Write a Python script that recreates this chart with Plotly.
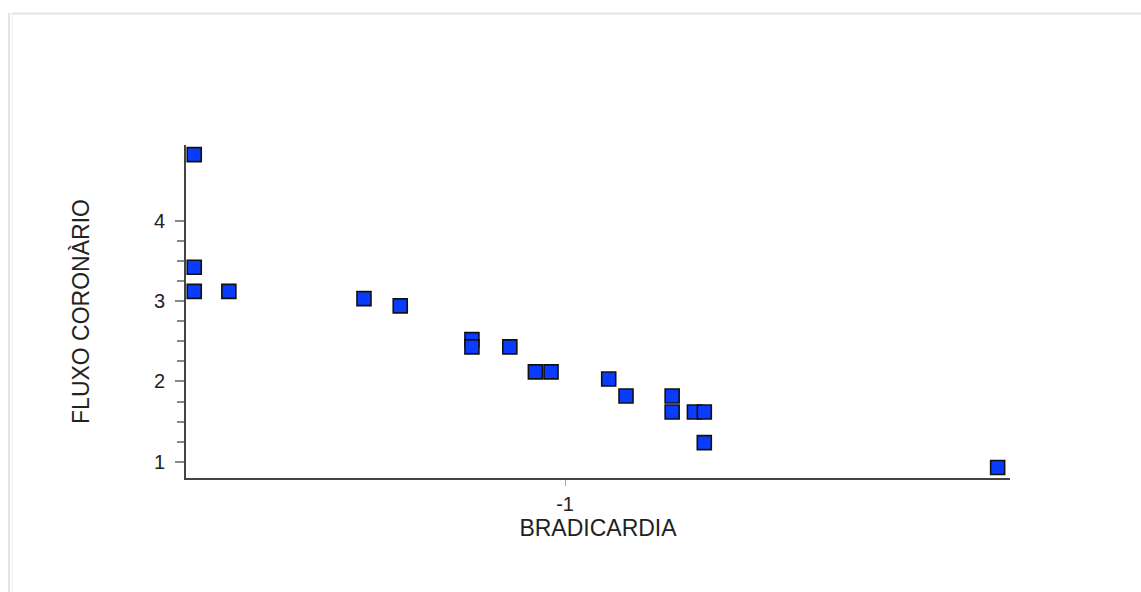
import plotly.graph_objects as go

# Data
bradicardia = [-1.450, -1.450, -1.450, -1.408, -1.244, -1.200, -1.113, -1.113, -1.067,
               -1.036, -1.017, -0.947, -0.926, -0.870, -0.870, -0.843, -0.831, -0.831, -0.475]
fluxo_coronario = [4.82, 3.42, 3.12, 3.12, 3.03, 2.94, 2.52, 2.43, 2.43,
                   2.12, 2.12, 2.03, 1.82, 1.82, 1.62, 1.62, 1.62, 1.24, 0.93]

x_tickvals = [-1]
x_ticktext = ["-1"]
y_tickvals = [1, 2, 3, 4]
y_ticktext = ["1", "2", "3", "4"]
y_minor_vals = [1.25, 1.5, 1.75, 2.25, 2.5, 2.75, 3.25, 3.5, 3.75]

W, H = 1141, 592
L, R, T, B = 186, 1010, 145, 478

fig = go.Figure()
fig.add_trace(go.Scatter(
    x=bradicardia, y=fluxo_coronario, mode="markers",
    marker=dict(symbol="square", size=14, color="#0a3cff",
                line=dict(color="#111111", width=1.6)),
    cliponaxis=False, showlegend=False,
))

def px2x(px):
    return (px - L) / (R - L)

def px2y(py):
    return (B - py) / (B - T)

border = "#e3e3e3"
shapes = [
    dict(type="line", xref="paper", yref="paper", x0=px2x(9), x1=px2x(9), y0=px2y(592), y1=px2y(13),
         line=dict(color=border, width=2)),
    dict(type="line", xref="paper", yref="paper", x0=px2x(12), x1=px2x(12), y0=px2y(592), y1=px2y(13),
         line=dict(color="#efefef", width=1)),
    dict(type="line", xref="paper", yref="paper", x0=px2x(12), x1=px2x(1141), y0=px2y(13.5), y1=px2y(13.5),
         line=dict(color=border, width=2)),
]

font = "Liberation Sans, Arial, sans-serif"
fig.update_layout(
    width=W, height=H,
    margin=dict(l=L, r=W - R, t=T, b=H - B),
    paper_bgcolor="white", plot_bgcolor="white",
    font=dict(family=font, color="#222222"),
    shapes=shapes,
    xaxis=dict(
        range=[-1.46, -0.46], tickmode="array", tickvals=x_tickvals, ticktext=x_ticktext,
        showgrid=False, zeroline=False, showline=True, linecolor="#444444", linewidth=2,
        ticks="outside", ticklen=6, tickcolor="#aaaaaa", tickwidth=1,
        tickfont=dict(size=20, family=font), ticklabelstandoff=1,
        title=dict(text="BRADICARDIA", font=dict(size=23, family=font), standoff=5),
    ),
    yaxis=dict(
        range=[0.80, 4.94], tickmode="array", tickvals=y_tickvals, ticktext=y_ticktext,
        showgrid=False, zeroline=False, showline=True, linecolor="#444444", linewidth=2,
        ticks="outside", ticklen=9, tickcolor="#888888", tickwidth=1.5,
        tickfont=dict(size=20, family=font), ticklabelstandoff=6,
        minor=dict(tickmode="array", tickvals=y_minor_vals, ticks="outside", ticklen=7,
                   tickcolor="#888888", tickwidth=1.5, showgrid=False),
        title=dict(text="FLUXO CORONÀRIO", font=dict(size=23, family=font), standoff=58),
    ),
)

fig.write_html("out.html")
